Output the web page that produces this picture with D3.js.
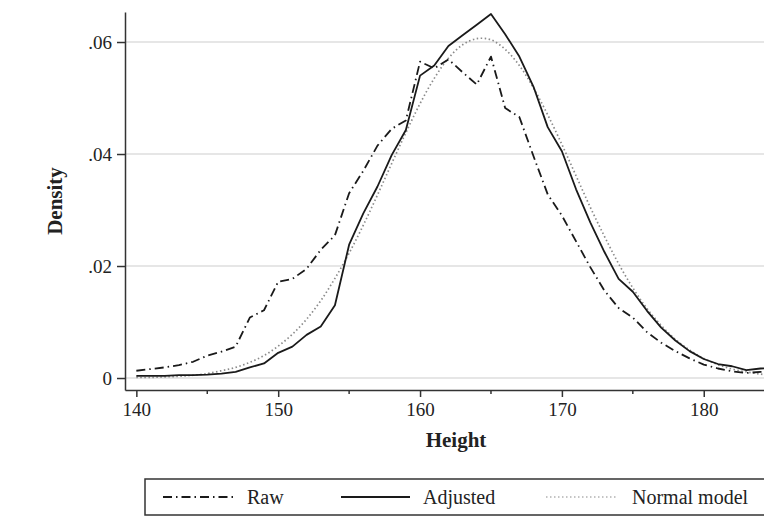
<!DOCTYPE html>
<meta charset="utf-8">
<style>

body {
  margin: 0;
  background: #fff;
}

text {
  font-family: "Liberation Serif", "DejaVu Serif", serif;
  fill: #222;
}

.grid line {
  stroke: #e6e6e6;
  stroke-width: 2;
}

.axis path, .axis line {
  stroke: #333;
  stroke-width: 1.5;
}

</style>
<body>
<script src="https://cdn.jsdelivr.net/npm/d3@7/dist/d3.min.js" charset="utf-8"></script>
<script>

// heights (cm) at which the densities were read
var heights = [140, 141, 142, 143, 144, 145, 146, 147, 148, 149,
               150, 151, 152, 153, 154, 155, 156, 157, 158, 159,
               160, 161, 162, 163, 164, 165, 166, 167, 168, 169,
               170, 171, 172, 173, 174, 175, 176, 177, 178, 179,
               180, 181, 182, 183, 184, 185];

var raw = [0.0013, 0.0016, 0.0019, 0.0023, 0.0029, 0.0040, 0.0047, 0.0056, 0.0108, 0.0121,
           0.0172, 0.0177, 0.0195, 0.0229, 0.0255, 0.0330, 0.0370, 0.0415, 0.0445, 0.0460,
           0.0565, 0.0553, 0.0569, 0.0546, 0.0524, 0.0574, 0.0482, 0.0466, 0.0396, 0.0328,
           0.0290, 0.0244, 0.0198, 0.0156, 0.0125, 0.0108, 0.0082, 0.0063, 0.0048, 0.0035,
           0.0024, 0.0017, 0.0012, 0.0009, 0.0011, 0.0012];

var adjusted = [0.0004, 0.0004, 0.0004, 0.0005, 0.0005, 0.0006, 0.0008, 0.0011, 0.0019, 0.0026,
                0.0045, 0.0056, 0.0077, 0.0092, 0.0130, 0.0238, 0.0294, 0.0342, 0.0398, 0.0443,
                0.0540, 0.0558, 0.0593, 0.0612, 0.0631, 0.0650, 0.0614, 0.0574, 0.0520, 0.0448,
                0.0405, 0.0337, 0.0278, 0.0225, 0.0177, 0.0154, 0.0120, 0.0090, 0.0067, 0.0048,
                0.0034, 0.0025, 0.0021, 0.0014, 0.0017, 0.0018];

var normal = [0.0001, 0.0001, 0.0002, 0.0003, 0.0005, 0.0008, 0.0013, 0.0019, 0.0028, 0.0040,
              0.0057, 0.0078, 0.0105, 0.0138, 0.0178, 0.0223, 0.0273, 0.0327, 0.0383, 0.0438,
              0.0490, 0.0535, 0.0571, 0.0595, 0.0606, 0.0604, 0.0587, 0.0558, 0.0518, 0.0470,
              0.0417, 0.0361, 0.0305, 0.0253, 0.0204, 0.0161, 0.0124, 0.0094, 0.0069, 0.0050,
              0.0035, 0.0024, 0.0016, 0.0011, 0.0007, 0.0004];

var xTicks = [140, 150, 160, 170, 180],
    xMinor = [145, 155, 165, 175],
    yTicks = [0, 0.02, 0.04, 0.06];

var seriesNames = ["Raw", "Adjusted", "Normal model"];

var width = 764,
    height = 520;

var svg = d3.select("body").append("svg")
    .attr("width", width)
    .attr("height", height);

var x = d3.scaleLinear()
    .domain([139.2, 184.6])
    .range([125, 769]);

var y = d3.scaleLinear()
    .domain([-0.00214, 0.06536])
    .range([390, 12]);

var fmtY = function(d) { return d === 0 ? "0" : d3.format(".2f")(d).replace(/^0/, ""); };

// gridlines
svg.append("g")
    .attr("class", "grid")
  .selectAll("line")
    .data(yTicks)
  .enter().append("line")
    .attr("x1", 126)
    .attr("x2", width)
    .attr("y1", function(d) { return y(d); })
    .attr("y2", function(d) { return y(d); });

// y axis
var yAxis = svg.append("g")
    .attr("class", "axis")
    .attr("transform", "translate(125,0)")
    .call(d3.axisLeft(y).tickValues(yTicks).tickFormat(fmtY).tickSize(8).tickSizeOuter(0));

yAxis.selectAll("text")
    .style("font-size", "19px")
    .attr("x", -13)
    .attr("dy", "0.32em");

// x axis
var xAxis = svg.append("g")
    .attr("class", "axis")
    .attr("transform", "translate(0,390)")
    .call(d3.axisBottom(x).tickValues(xTicks).tickFormat(d3.format("d")).tickSize(7).tickSizeOuter(0));

xAxis.selectAll("text")
    .style("font-size", "19px")
    .attr("y", 13)
    .attr("dy", "0.71em");

xAxis.selectAll(".minor")
    .data(xMinor)
  .enter().append("line")
    .attr("class", "minor")
    .attr("x1", function(d) { return x(d); })
    .attr("x2", function(d) { return x(d); })
    .attr("y1", 0)
    .attr("y2", 4);

svg.selectAll(".domain").attr("stroke", "#333");

// axis titles
svg.append("text")
    .attr("transform", "translate(62,201) rotate(-90)")
    .attr("text-anchor", "middle")
    .style("font-size", "21px")
    .style("font-weight", "bold")
    .text("Density");

svg.append("text")
    .attr("x", 456)
    .attr("y", 447)
    .attr("text-anchor", "middle")
    .style("font-size", "21px")
    .style("font-weight", "bold")
    .text("Height");

// lines
var styles = [
  {values: raw, color: "#1a1a1a", dash: "9,4,1.5,4", w: 1.8},
  {values: adjusted, color: "#1a1a1a", dash: null, w: 1.8},
  {values: normal, color: "#8a8a8a", dash: "1.5,2.5", w: 1.7}
];

var plot = svg.append("g");

plot.append("clipPath")
    .attr("id", "clip")
  .append("rect")
    .attr("x", 126).attr("y", 0)
    .attr("width", width).attr("height", 390);

var order = [2, 0, 1];

order.forEach(function(i) {
  var s = styles[i];
  var line = d3.line()
      .x(function(d, j) { return x(heights[j]); })
      .y(function(d) { return y(d); });
  if (i === 2) line.curve(d3.curveCatmullRom);
  plot.append("path")
      .datum(s.values)
      .attr("clip-path", "url(#clip)")
      .attr("fill", "none")
      .attr("stroke", s.color)
      .attr("stroke-width", s.w)
      .attr("stroke-dasharray", s.dash)
      .attr("stroke-linejoin", "round")
      .attr("d", line);
});

// legend
var legend = svg.append("g");

legend.append("rect")
    .attr("x", 145)
    .attr("y", 479)
    .attr("width", 640)
    .attr("height", 36)
    .attr("fill", "#fff")
    .attr("stroke", "#333")
    .attr("stroke-width", 1.5);

var legendPos = [
  {x1: 163, x2: 237, tx: 247},
  {x1: 341, x2: 410, tx: 423},
  {x1: 546, x2: 616, tx: 632}
];

seriesNames.forEach(function(name, i) {
  var p = legendPos[i], s = styles[i];
  legend.append("line")
      .attr("x1", p.x1)
      .attr("x2", p.x2)
      .attr("y1", 497)
      .attr("y2", 497)
      .attr("stroke", s.color)
      .attr("stroke-width", i === 2 ? 1.2 : s.w)
      .attr("stroke-dasharray", s.dash);
  legend.append("text")
      .attr("x", p.tx)
      .attr("y", 504)
      .style("font-size", "20px")
      .text(name);
});

</script>
